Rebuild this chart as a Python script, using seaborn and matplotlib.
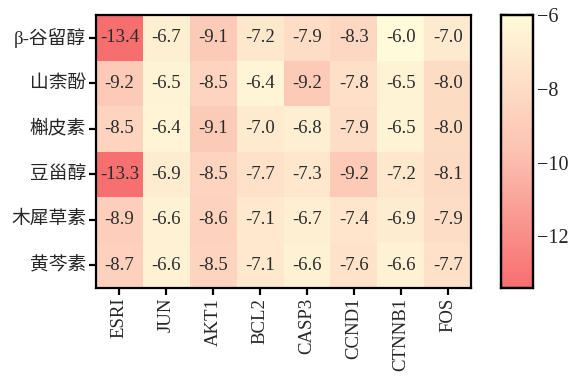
import numpy as np
import pandas as pd
import matplotlib
matplotlib.use("Agg")
import matplotlib.pyplot as plt
import seaborn as sns
from matplotlib.colors import LinearSegmentedColormap

compounds = ['β-谷留醇', '山柰酚', '槲皮素', '豆甾醇', '木犀草素', '黄芩素']
targets = ['ESRI', 'JUN', 'AKT1', 'BCL2', 'CASP3', 'CCND1', 'CTNNB1', 'FOS']
row_sitosterol = [-13.4, -6.7, -9.1, -7.2, -7.9, -8.3, -6.0, -7.0]
row_kaempferol = [-9.2, -6.5, -8.5, -6.4, -9.2, -7.8, -6.5, -8.0]
row_quercetin = [-8.5, -6.4, -9.1, -7.0, -6.8, -7.9, -6.5, -8.0]
row_stigmasterol = [-13.3, -6.9, -8.5, -7.7, -7.3, -9.2, -7.2, -8.1]
row_luteolin = [-8.9, -6.6, -8.6, -7.1, -6.7, -7.4, -6.9, -7.9]
row_baicalein = [-8.7, -6.6, -8.5, -7.1, -6.6, -7.6, -6.6, -7.7]

data = pd.DataFrame([row_sitosterol, row_kaempferol, row_quercetin,
                     row_stigmasterol, row_luteolin, row_baicalein],
                    index=compounds, columns=targets)

sns.set_style("white")
plt.rcParams['font.family'] = ['Liberation Serif', 'Noto Sans CJK SC']
plt.rcParams['axes.unicode_minus'] = True

cmap = LinearSegmentedColormap.from_list('cream_red', ['#F76E6E', '#FCC2B2', '#FFFADA'])

fig = plt.figure(figsize=(5.74, 3.78), dpi=100)
ax = fig.add_axes([0.167, 0.238, 0.654, 0.722])
cax = fig.add_axes([0.873, 0.238, 0.056, 0.722])

sns.heatmap(data, ax=ax, cbar_ax=cax, cmap=cmap, vmin=-13.4, vmax=-6.0,
            annot=True, fmt='.1f', annot_kws={'size': 13.5, 'color': '#2a2a2a'})

for sp in ax.spines.values():
    sp.set_visible(True)
    sp.set_linewidth(1.6)
    sp.set_color('black')
ax.tick_params(axis='both', which='major', length=5, width=1.6, color='black',
               direction='out', bottom=True, left=True, pad=2)
ax.tick_params(axis='x', labelsize=13.5, labelrotation=90)
ax.tick_params(axis='y', labelsize=13.5, labelrotation=0)

cax.set_frame_on(True)
for sp in cax.spines.values():
    sp.set_visible(True)
    sp.set_linewidth(1.6)
    sp.set_color('black')
cax.set_yticks([-6, -8, -10, -12])
cax.tick_params(axis='y', direction='in', length=5, width=1.6, left=True, right=True,
                labelsize=14.5, color='black', pad=3)
cax.yaxis.set_ticks_position('both')
cax.yaxis.set_label_position('right')

fig.savefig('out.png', dpi=100)
